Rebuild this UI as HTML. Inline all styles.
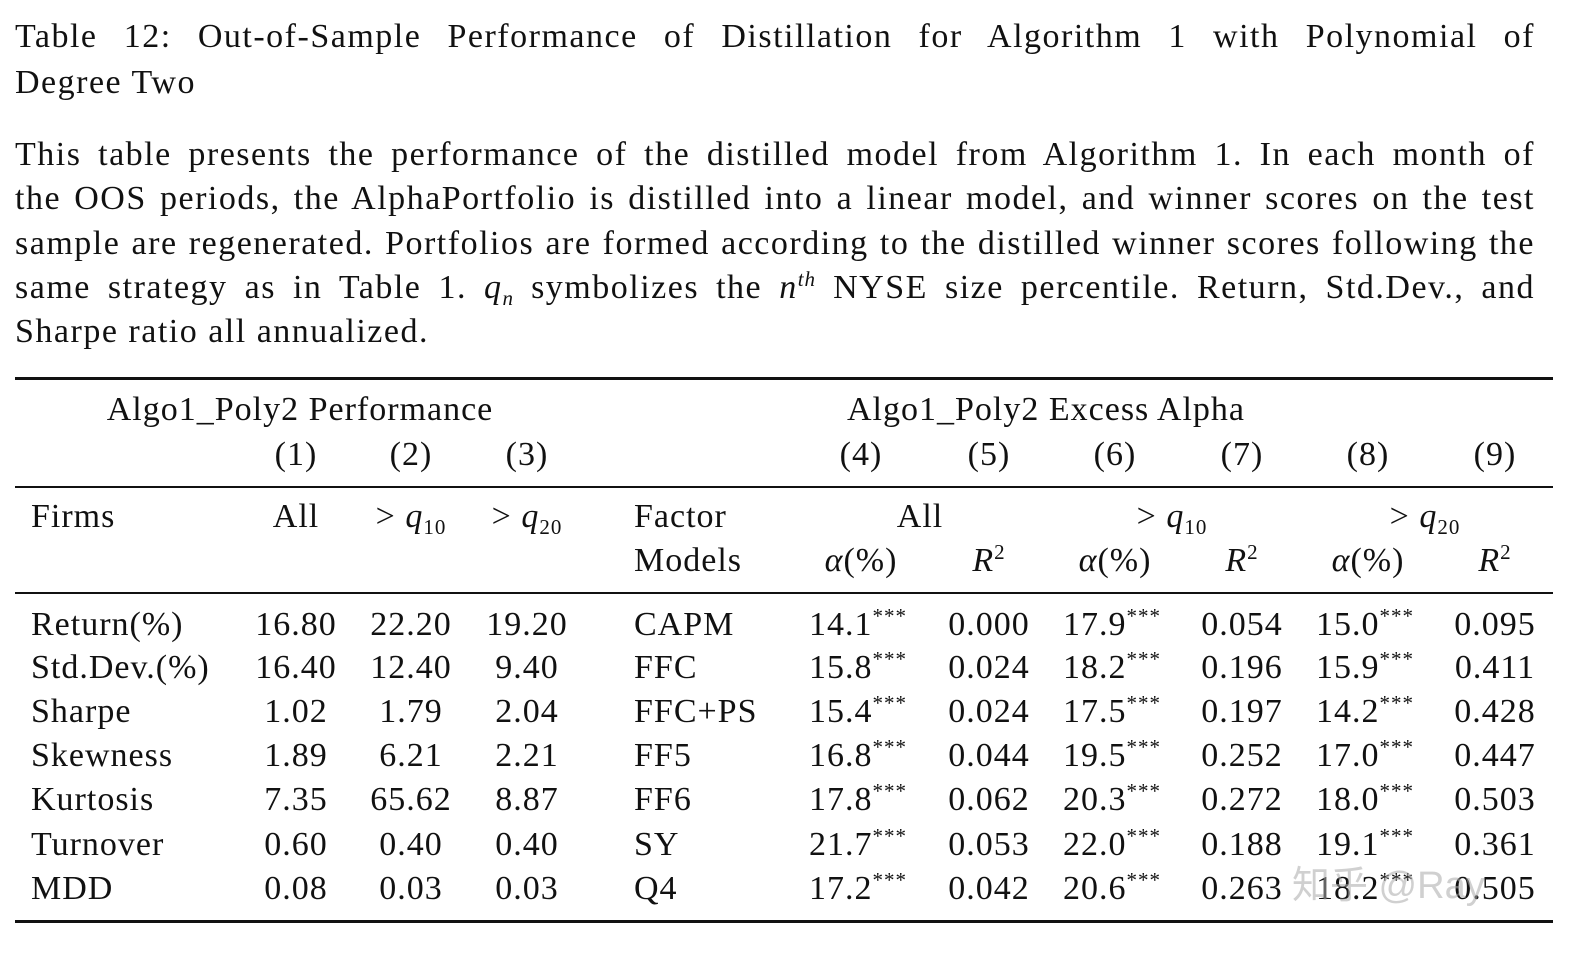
<!DOCTYPE html>
<html><head><meta charset="utf-8">
<style>
html,body{margin:0;padding:0;background:#fff;}
body{width:1591px;height:963px;position:relative;overflow:hidden;font-family:"Liberation Serif","Noto Serif CJK SC",serif;color:#111;font-size:34px;letter-spacing:1px;}
.t{position:absolute;white-space:nowrap;line-height:36px;height:36px;}
.c{transform:translateX(-50%);}
.j{position:absolute;left:15px;width:1520px;text-align:justify;text-align-last:justify;line-height:36px;white-space:nowrap;letter-spacing:1.5px;}
.jn{text-align-last:left;}
.rule{position:absolute;left:15px;width:1538px;background:#111;}
sup{font-size:21px;vertical-align:12px;line-height:0;letter-spacing:1px;}
sub{font-size:21px;vertical-align:-7px;line-height:0;letter-spacing:1px;}
i{font-style:italic;}
</style></head>
<body>
<div class="j" style="top:19px">Table 12: Out-of-Sample Performance of Distillation for Algorithm 1 with Polynomial of</div>
<div class="j jn" style="top:65px">Degree Two</div>
<div class="j" style="top:137px">This table presents the performance of the distilled model from Algorithm 1. In each month of</div>
<div class="j" style="top:181px">the OOS periods, the AlphaPortfolio is distilled into a linear model, and winner scores on the test</div>
<div class="j" style="top:226px">sample are regenerated. Portfolios are formed according to the distilled winner scores following the</div>
<div class="j" style="top:270px">same strategy as in Table 1. <i>q<sub>n</sub></i> symbolizes the <i>n<sup>th</sup></i> NYSE size percentile. Return, Std.Dev., and</div>
<div class="j jn" style="top:314px">Sharpe ratio all annualized.</div>

<div class="rule" style="top:377px;height:3px"></div>
<div class="rule" style="top:486px;height:2px"></div>
<div class="rule" style="top:592px;height:2px"></div>
<div class="rule" style="top:920px;height:3px"></div>

<div class="t c" style="left:300px;top:392px">Algo1_Poly2 Performance</div>
<div class="t c" style="left:1046px;top:392px">Algo1_Poly2 Excess Alpha</div>

<div id="tbl"></div>

<div class="t" style="left:1292px;top:863px;color:rgba(170,170,170,0.55);font-family:'Liberation Sans','Noto Sans CJK SC',sans-serif;font-size:38px;height:46px;line-height:46px;letter-spacing:0">知乎 @Ray</div>

<script>
const colNums = ["(1)","(2)","(3)","(4)","(5)","(6)","(7)","(8)","(9)"];
const rowLabels = ["Return(%)","Std.Dev.(%)","Sharpe","Skewness","Kurtosis","Turnover","MDD"];
const perfAll = ["16.80","16.40","1.02","1.89","7.35","0.60","0.08"];
const perfQ10 = ["22.20","12.40","1.79","6.21","65.62","0.40","0.03"];
const perfQ20 = ["19.20","9.40","2.04","2.21","8.87","0.40","0.03"];
const factorModels = ["CAPM","FFC","FFC+PS","FF5","FF6","SY","Q4"];
const alphaAll = ["14.1","15.8","15.4","16.8","17.8","21.7","17.2"];
const r2All = ["0.000","0.024","0.024","0.044","0.062","0.053","0.042"];
const alphaQ10 = ["17.9","18.2","17.5","19.5","20.3","22.0","20.6"];
const r2Q10 = ["0.054","0.196","0.197","0.252","0.272","0.188","0.263"];
const alphaQ20 = ["15.0","15.9","14.2","17.0","18.0","19.1","18.2"];
const r2Q20 = ["0.095","0.411","0.428","0.447","0.503","0.361","0.505"];

const colX = [296,411,527,861,989,1115,1242,1368,1495];
const rowY = [625,668,712,756,800,845,889];
const tbl = document.getElementById('tbl');
function add(html, x, y, center, name){
  const el = document.createElement('div');
  el.className = 't' + (center ? ' c' : '');
  el.style.left = x + 'px';
  el.style.top = (y - 18) + 'px';
  el.innerHTML = html;
  
  
  tbl.appendChild(el);
}
colNums.forEach((s,i)=>add(s, colX[i], 455, true, 'column-number-' + (i+1)));
add('Firms', 31, 517, false, 'firms-header');
add('All', 296, 517, true, 'all-header');
add('&gt; <i>q</i><sub>10</sub>', 411, 517, true, 'q10-header');
add('&gt; <i>q</i><sub>20</sub>', 527, 517, true, 'q20-header');
add('Factor', 634, 517, false, 'factor-header');
add('Models', 634, 561, false, 'models-header');
add('All', 920, 517, true, 'alpha-all-header');
add('&gt; <i>q</i><sub>10</sub>', 1172, 517, true, 'alpha-q10-header');
add('&gt; <i>q</i><sub>20</sub>', 1425, 517, true, 'alpha-q20-header');
[3,5,7].forEach(i=>{
  add('<i>α</i>(%)', colX[i], 561, true, 'alpha-header');
  add('<i>R</i><sup>2</sup>', colX[i+1], 561, true, 'r2-header');
});
const star = '<sup>***</sup>';
rowLabels.forEach((lab,r)=>{
  const y = rowY[r];
  add(lab, 31, y, false, 'row-label');
  add(perfAll[r], colX[0], y, true, 'perf-all-cell');
  add(perfQ10[r], colX[1], y, true, 'perf-q10-cell');
  add(perfQ20[r], colX[2], y, true, 'perf-q20-cell');
  add(factorModels[r], 634, y, false, 'factor-model-label');
  add(alphaAll[r] + star, colX[3] - 52, y, false, 'alpha-all-cell');
  add(r2All[r], colX[4], y, true, 'r2-all-cell');
  add(alphaQ10[r] + star, colX[5] - 52, y, false, 'alpha-q10-cell');
  add(r2Q10[r], colX[6], y, true, 'r2-q10-cell');
  add(alphaQ20[r] + star, colX[7] - 52, y, false, 'alpha-q20-cell');
  add(r2Q20[r], colX[8], y, true, 'r2-q20-cell');
});
</script>
</body></html>
